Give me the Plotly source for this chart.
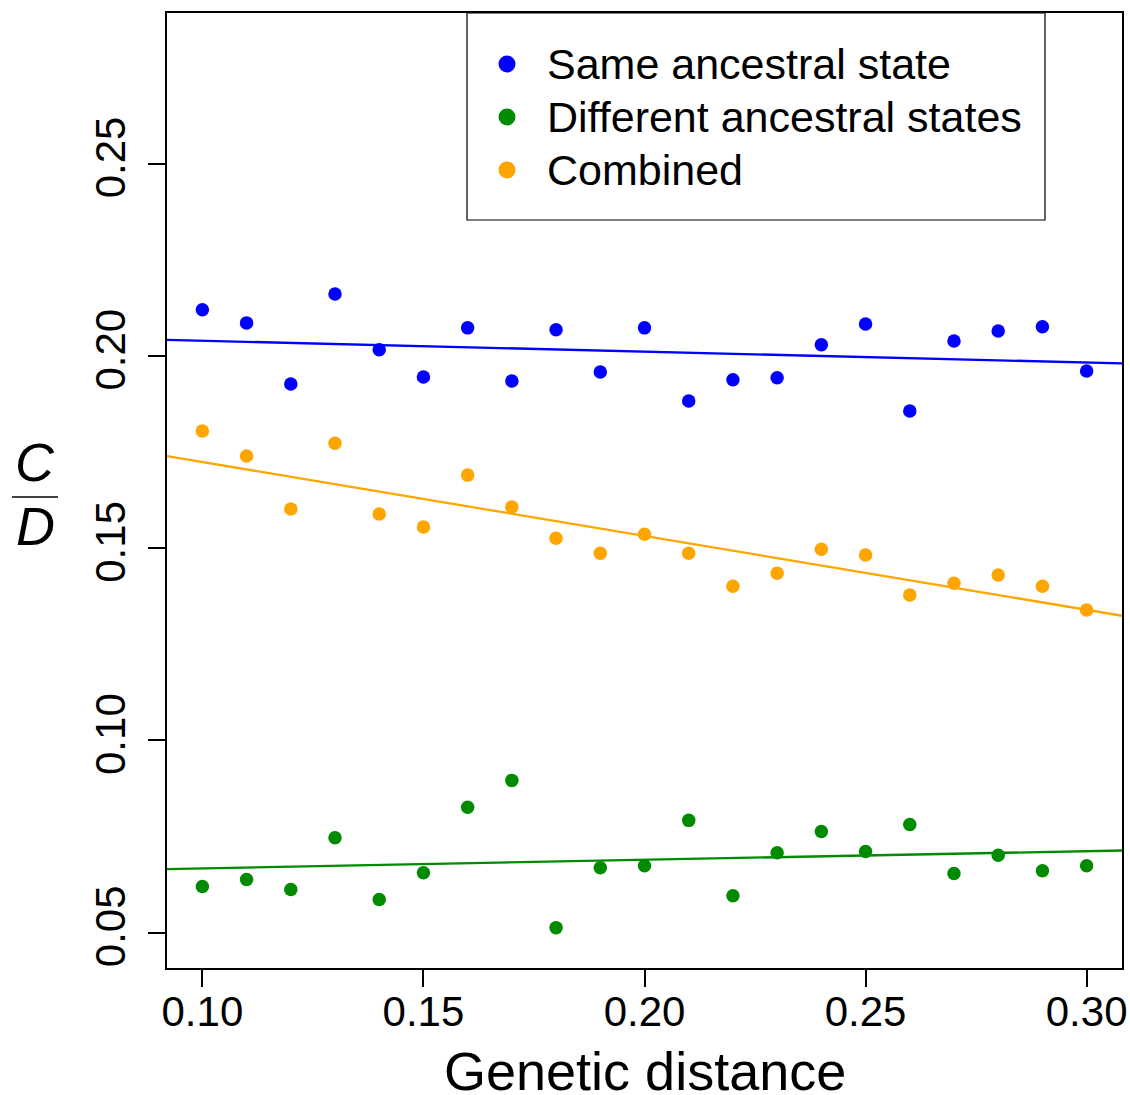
import numpy as np
import plotly.graph_objects as go

# ---- data ----
distance = [0.10, 0.11, 0.12, 0.13, 0.14, 0.15, 0.16, 0.17, 0.18, 0.19, 0.20,
            0.21, 0.22, 0.23, 0.24, 0.25, 0.26, 0.27, 0.28, 0.29, 0.30]
same_state = [0.2120, 0.2086, 0.1927, 0.2161, 0.2016, 0.1945, 0.2073, 0.1935, 0.2068, 0.1958, 0.2073,
              0.1883, 0.1938, 0.1943, 0.2029, 0.2083, 0.1857, 0.2039, 0.2065, 0.2076, 0.1961]
different_states = [0.0620, 0.0638, 0.0612, 0.0747, 0.0586, 0.0656, 0.0826, 0.0896, 0.0513, 0.0669, 0.0674,
                    0.0792, 0.0596, 0.0708, 0.0763, 0.0711, 0.0781, 0.0654, 0.0701, 0.0661, 0.0674]
combined = [0.1805, 0.1740, 0.1602, 0.1773, 0.1589, 0.1555, 0.1690, 0.1607, 0.1526, 0.1487, 0.1536,
            0.1487, 0.1401, 0.1435, 0.1497, 0.1482, 0.1378, 0.1409, 0.1430, 0.1401, 0.1339]

series_names = ["Same ancestral state", "Different ancestral states", "Combined"]
series_values = [same_state, different_states, combined]
series_colors = ["#0000FF", "#008B00", "#FFA500"]

x_ticks = [0.10, 0.15, 0.20, 0.25, 0.30]
y_ticks = [0.05, 0.10, 0.15, 0.20, 0.25]

X_RANGE = [0.092, 0.308]
Y_RANGE = [0.0408, 0.2892]

FONT = "Liberation Sans, Arial, Helvetica, sans-serif"

fig = go.Figure()

xs = np.array(distance)
for name, vals, col in zip(series_names, series_values, series_colors):
    fig.add_trace(go.Scatter(x=distance, y=vals, mode="markers", name=name,
                             marker=dict(color=col, size=13.5, line=dict(width=0)),
                             showlegend=False))
    slope, intercept = np.polyfit(xs, np.array(vals), 1)
    lx = np.array(X_RANGE)
    fig.add_trace(go.Scatter(x=lx, y=intercept + slope * lx, mode="lines",
                             line=dict(color=col, width=2.3), showlegend=False,
                             hoverinfo="skip"))

W, H = 1130, 1095
L, R, T, B = 167, 8, 13, 127
pw, ph = W - L - R, H - T - B

def px_x(p):
    return (p - L) / pw

def px_y(p):
    return 1 - (p - T) / ph

# ---- manual legend (R style) ----
fig.add_shape(type="rect", xref="paper", yref="paper",
              x0=px_x(467), x1=px_x(1045), y0=px_y(220), y1=px_y(13),
              line=dict(color="black", width=1.2), fillcolor="white", layer="below")
leg_y = [64, 117, 170]
for name, col, py in zip(series_names, series_colors, leg_y):
    r = 8.5
    fig.add_shape(type="circle", xref="paper", yref="paper",
                  x0=px_x(507 - r), x1=px_x(507 + r), y0=px_y(py + r), y1=px_y(py - r),
                  fillcolor=col, line=dict(width=0))
    fig.add_annotation(xref="paper", yref="paper", x=px_x(545), y=px_y(py),
                       text=name, showarrow=False, xanchor="left", yanchor="middle",
                       font=dict(size=43, color="black", family=FONT))

# ---- y-axis label: C over D fraction ----
fig.add_annotation(xref="paper", yref="paper", x=px_x(35), y=px_y(462),
                   text="<i>C</i>", showarrow=False, xanchor="center", yanchor="middle",
                   font=dict(size=54, color="black", family=FONT))
fig.add_annotation(xref="paper", yref="paper", x=px_x(35), y=px_y(526),
                   text="<i>D</i>", showarrow=False, xanchor="center", yanchor="middle",
                   font=dict(size=54, color="black", family=FONT))
fig.add_shape(type="line", xref="paper", yref="paper",
              x0=px_x(12), x1=px_x(58), y0=px_y(497), y1=px_y(497),
              line=dict(color="black", width=1.5))

# ---- x-axis title ----
fig.add_annotation(xref="paper", yref="paper", x=px_x(645), y=px_y(1071),
                   text="Genetic distance", showarrow=False, xanchor="center", yanchor="middle",
                   font=dict(size=54, color="black", family=FONT))

fig.update_layout(
    width=W, height=H,
    margin=dict(l=L, r=R, t=T, b=B, autoexpand=False),
    paper_bgcolor="white", plot_bgcolor="white",
    font=dict(family=FONT, color="black"),
    showlegend=False,
)
fig.update_xaxes(range=X_RANGE, tickvals=x_ticks, ticktext=[f"{v:.2f}" for v in x_ticks],
                 showgrid=False, zeroline=False, showline=True, mirror=True, automargin=False,
                 linecolor="black", linewidth=1.5, ticks="outside", ticklen=17,
                 tickwidth=1.5, tickcolor="black", ticklabelstandoff=-11,
                 tickfont=dict(size=42, family=FONT))
fig.update_yaxes(range=Y_RANGE, tickvals=y_ticks, ticktext=[f"{v:.2f}" for v in y_ticks],
                 showgrid=False, zeroline=False, showline=True, mirror=True, automargin=False,
                 linecolor="black", linewidth=1.5, ticks="outside", ticklen=17,
                 tickwidth=1.5, tickcolor="black", tickangle=-90, ticklabelstandoff=6,
                 tickfont=dict(size=42, family=FONT))

fig.write_html("out.html", config={"displayModeBar": False},
               post_script="document.body.style.margin='0';document.body.style.padding='0';")
